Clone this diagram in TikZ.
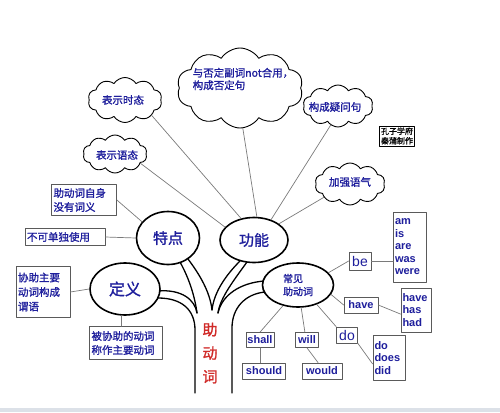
\documentclass[tikz,border=0pt]{standalone}
\usepackage{fontspec}
\setmainfont{Liberation Sans}
\newfontfamily\cjk[FakeBold=1.3]{Noto Sans CJK SC}
\usetikzlibrary{shapes.geometric,shapes.symbols}
\definecolor{labelblue}{HTML}{1E1E9C}
\definecolor{rootred}{HTML}{D02A28}
\definecolor{linkgray}{HTML}{7A7A7A}
\definecolor{boxgray}{HTML}{5A5A5A}
\definecolor{stripgray}{HTML}{DCE1E8}

\begin{document}
\begin{tikzpicture}[
  x=1pt,
  y=-1pt,
  line join=round,
  line cap=round,
  puff/.style={shape=cloud,cloud puffs=10,cloud puff arc=115,cloud ignores aspect,
    draw=black,line width=0.9pt,fill=white,inner sep=0pt},
  pufftext/.style={text=labelblue,font=\cjk\fontsize{10.5}{12.5}\selectfont,align=left,inner sep=0pt},
  bubble/.style={ellipse,draw=black,line width=1.6pt,fill=white,text=labelblue,inner sep=0pt},
  cnbox/.style={draw=boxgray,line width=0.7pt,fill=white,text=labelblue,
    font=\cjk\fontsize{10.5}{14}\selectfont,align=left,inner sep=2pt},
  enbox/.style={draw=boxgray,line width=0.7pt,fill=white,text=labelblue,
    font=\bfseries\fontsize{11}{12.5}\selectfont,align=left,inner sep=1.5pt},
  link/.style={draw=linkgray,line width=0.7pt},
  branch/.style={draw=black,line width=1.3pt}
]
  \useasboundingbox (0,0) rectangle (500,412);
  \fill[stripgray] (0,408) rectangle (500,412);

  % Trunk and forks of the tree.
  \draw[branch] (158,298) .. controls (182,298) and (195,310) .. (195,330) -- (195,393);
  \draw[branch] (158,291) .. controls (182,289) and (195,300) .. (197,313);
  \draw[branch] (180,262) .. controls (190,280) and (195,298) .. (197,313);
  \draw[branch] (188,259) .. controls (200,275) and (210,292) .. (212,310);
  \draw[branch] (240,261) .. controls (226,275) and (214,292) .. (212,310);
  \draw[branch] (247,262) .. controls (234,280) and (220,298) .. (218,313);
  \draw[branch] (264,281) .. controls (240,283) and (222,295) .. (218,313);
  \draw[branch] (265,292) .. controls (245,294) and (232,308) .. (232,328) -- (232,393);

  \node[text=rootred,font=\cjk\fontsize{15}{23.5}\selectfont,align=center] (root) at (210,353) {助\\动\\词};

  % Main ellipses.
  \node[bubble,minimum width=63,minimum height=53,font=\cjk\fontsize{15}{17}\selectfont] (tedian) at (168,238) {特点};
  \node[bubble,minimum width=68,minimum height=45,font=\cjk\fontsize{15}{17}\selectfont] (gongneng) at (254,240) {功能};
  \node[bubble,minimum width=70,minimum height=52,font=\cjk\fontsize{16}{18}\selectfont] (dingyi) at (125,289) {定义};
  \node[bubble,minimum width=71,minimum height=44,font=\cjk\fontsize{10}{13}\selectfont,align=left] (changjian) at (298,285) {常见\\助动词};

  % Clouds round the function ellipse.
  \node[puff,minimum width=74,minimum height=45] (shitai) at (125,100) {};
  \node[pufftext] (shitai-t) at (123,100) {表示时态};
  \node[puff,minimum width=64,minimum height=38] (yutai) at (115,154) {};
  \node[pufftext] (yutai-t) at (117,155) {表示语态};
  \node[puff,minimum width=126,minimum height=80] (fouding) at (240,88) {};
  \node[pufftext] (fouding-t) at (243,79) {与否定副词not合用，\\构成否定句};
  \node[puff,minimum width=70,minimum height=42] (yiwen) at (338,106) {};
  \node[pufftext] (yiwen-t) at (335,107) {构成疑问句};
  \node[puff,minimum width=70,minimum height=42] (yuqi) at (350,184) {};
  \node[pufftext] (yuqi-t) at (350,182) {加强语气};

  \node[draw=black,line width=0.6pt,font=\cjk\fontsize{8}{9.5}\selectfont,align=left,inner sep=1.5pt] (credit) at (397,136) {孔子学府\\秦蒲制作};

  % Chinese boxes.
  \node[cnbox,text width=61,minimum height=31] (meiyou) at (84,200) {助动词自身\\没有词义};
  \node[cnbox,text width=76,minimum height=17] (budan) at (65,237) {不可单独使用};
  \node[cnbox,text width=50,minimum height=51,font=\cjk\fontsize{10.5}{14.5}\selectfont] (xiezhu) at (43,292) {协助主要\\动词构成\\谓语};
  \node[cnbox,text width=69,minimum height=33] (beixie) at (126,343) {被协助的动词\\称作主要动词};

  % Common auxiliaries and their forms.
  \node[enbox,font=\fontsize{14}{16}\selectfont,minimum width=22,minimum height=18] (be) at (360,261) {be};
  \node[enbox,text width=30,minimum height=70] (beforms) at (410,247) {am\\is\\are\\was\\were};
  \node[enbox,minimum width=34,minimum height=16] (have) at (361,305) {have};
  \node[enbox,text width=27,minimum height=44] (haveforms) at (416,310) {have\\has\\had};
  \node[enbox,font=\fontsize{14}{16}\selectfont,minimum width=21,minimum height=16] (do) at (347,335) {do};
  \node[enbox,text width=29,minimum height=45] (doforms) at (389,358) {do\\does\\did};
  \node[enbox,minimum width=23,minimum height=15] (will) at (307,340) {will};
  \node[enbox,minimum width=40,minimum height=16] (would) at (322,371) {would};
  \node[enbox,minimum width=26,minimum height=15] (shall) at (260,340) {shall};
  \node[enbox,minimum width=43,minimum height=16] (should) at (264,371) {should};

  % Connectors.
  \draw[link] (shitai.-30) -- (gongneng.121);
  \draw[link] (yutai.-20) -- (gongneng.156);
  \draw[link] (fouding.-86) -- (gongneng.83);
  \draw[link] (yiwen.-111) -- (gongneng.50);
  \draw[link] (yuqi.-153) -- (gongneng.33);
  \draw[link] (meiyou.east) -- (tedian.148);
  \draw[link] (budan.east) -- (tedian.west);
  \draw[link] (xiezhu.east) -- (dingyi.west);
  \draw[link] (dingyi.262) -- (dingyi.262 |- beixie.north);
  \draw[link] (changjian.22) -- (be.west);
  \draw[link] (be.east) -- (be.east -| beforms.west);
  \draw[link] (changjian.-16) -- (have.west);
  \draw[link] (have.east) -- (haveforms.-165);
  \draw[link] (changjian.-46) -- (do.north west);
  \draw[link] (do.south east) -- (doforms.-160);
  \draw[link] (changjian.-82) -- (will.105);
  \draw[link] (will.south) -- (would.115);
  \draw[link] (changjian.-126) -- (shall.north);
  \draw[link] (shall.south) -- (shall.south |- should.north);
\end{tikzpicture}
\end{document}
